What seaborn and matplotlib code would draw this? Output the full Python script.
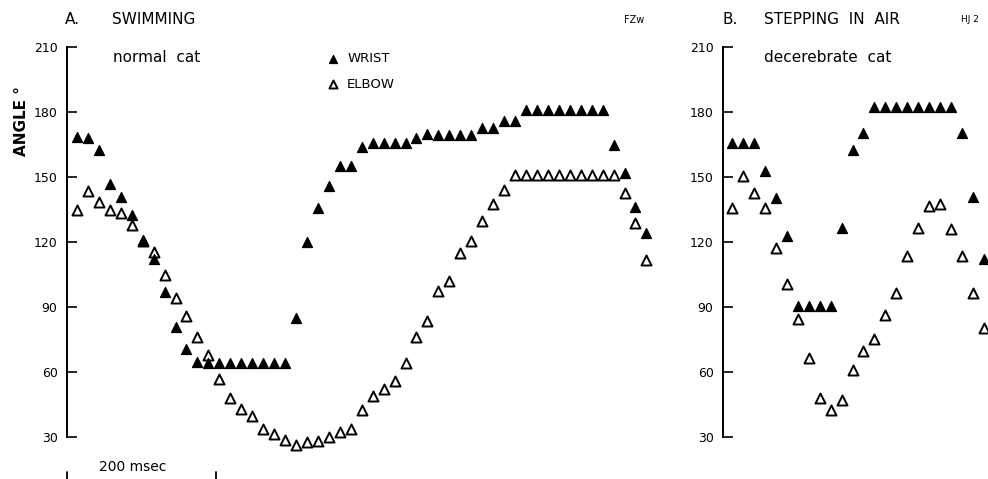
import matplotlib
matplotlib.use("Agg")
import matplotlib.pyplot as plt
import numpy as np
import pandas as pd
import seaborn as sns

# Joint angles (degrees) sampled frame by frame from film records
FRAME_MS = 14.7  # interval between film frames, msec

swim_wrist = [168.5, 168, 162.5, 147, 141, 132.5, 121, 112, 97, 81, 70.5,
              64.5, 64, 64, 64, 64, 64, 64, 64, 64,
              85, 120, 135.5, 146, 155, 155, 164,
              165.5, 165.5, 165.5, 165.5, 168, 170, 169.5, 169.5, 169.5, 169.5,
              172.5, 172.5, 176, 176,
              181, 181, 181, 181, 181, 181, 181, 181,
              165, 152, 136, 124]
swim_elbow = [134.8, 143.5, 138.5, 135, 133.4, 128, 120.5, 115.4, 105, 94,
              86, 76, 68, 57, 48, 43, 39.8, 33.7, 31.4, 28.6,
              26.3, 27.7, 28.2, 30, 32.3, 33.7, 42.5, 49, 52, 56,
              64, 76, 83.5, 97.4, 102, 115, 120.5, 129.7, 137.5, 144,
              151, 151, 151, 151, 151, 151, 151, 151, 151, 151,
              142.6, 129, 111.7]

step_wrist = [165.5, 165.5, 165.5, 152.8, 140.3, 123, 90.5, 90.5, 90.5, 90.5,
              126.5, 162.5, 170.3,
              182.3, 182.3, 182.3, 182.3, 182.3, 182.3, 182.3, 182.3,
              170.3, 140.8, 112.2]
step_elbow = [135.7, 150.5, 142.6, 135.7, 117.2, 100.6, 84.5, 66.5, 48, 42.5,
              47, 61, 69.7, 75.2, 86.3, 96.5, 113.5, 126.5, 136.6, 137.5,
              126, 113.5, 96.5, 80.3]

angle_ticks = [30, 60, 90, 120, 150, 180, 210]
joint_labels = ["WRIST", "ELBOW"]
SCALE_MS = 200


def frame_table(wrist, elbow):
    t = np.arange(len(wrist)) * FRAME_MS
    return pd.DataFrame({"time": t, "wrist": wrist, "elbow": elbow})


swim = frame_table(swim_wrist, swim_elbow)
step = frame_table(step_wrist, step_elbow)

sns.set_theme(style="white")
plt.rcParams["font.family"] = ["DejaVu Sans"]
plt.rcParams["text.color"] = "black"
plt.rcParams["axes.labelcolor"] = "black"

fig = plt.figure(figsize=(9.88, 4.79), dpi=100)
ax_a = fig.add_axes([0.0678, 0.04245, 0.6002, 0.88204])
ax_b = fig.add_axes([0.7318, 0.04245, 0.2804, 0.88204])

MS_AREA = 52


def draw_panel(ax, df, xlim):
    sns.scatterplot(data=df, x="time", y="wrist", ax=ax, marker="^", s=MS_AREA,
                    color="black", edgecolor="black", linewidth=0.9,
                    label=joint_labels[0], legend=False, clip_on=False, zorder=3)
    sns.scatterplot(data=df, x="time", y="elbow", ax=ax, marker="^", s=MS_AREA,
                    color="white", edgecolor="black", linewidth=1.4,
                    label=joint_labels[1], legend=False, clip_on=False, zorder=2)
    ax.set_xlim(*xlim)
    ax.set_ylim(20, 215)
    for side in ("top", "right", "bottom"):
        ax.spines[side].set_visible(False)
    ax.spines["left"].set_bounds(30, 210)
    ax.spines["left"].set_linewidth(1.4)
    ax.spines["left"].set_color("black")
    ax.set_yticks(angle_ticks)
    ax.tick_params(axis="y", left=True, direction="in", length=7.5, width=1.2,
                   pad=6.8, labelsize=9, colors="black")
    ax.set_xticks([])
    ax.set_xlabel("")
    ax.set_ylabel("")
    ax.patch.set_alpha(0)


draw_panel(ax_a, swim, (-13.4, 782.6))
draw_panel(ax_b, step, (-12.1, 359.7))

# Legend for the two joints
handles, labels = ax_a.get_legend_handles_labels()
ax_a.legend(handles, labels, loc="upper left", frameon=False, fontsize=9.5,
            bbox_to_anchor=(326 / 988, 1 - 52 / 479), bbox_transform=fig.transFigure,
            borderpad=0, borderaxespad=0, handlelength=1.0, handletextpad=0.6,
            labelspacing=0.95, markerscale=0.8)

# Time scale bar
x0 = ax_a.get_xlim()[0]
ax_a.plot([x0, x0, x0 + SCALE_MS, x0 + SCALE_MS], [14, 9.5, 9.5, 14],
          color="black", lw=1.3, clip_on=False)
fig.text(133 / 988, 1 - 467 / 479, f"{SCALE_MS} msec", ha="center", va="center",
         fontsize=10)

# Panel titles and notes
def ftext(px, py, s, **kw):
    fig.text(px / 988, 1 - py / 479, s, va="center", ha="left", **kw)


ftext(65, 20, "A.", fontsize=11)
ftext(112, 20, "SWIMMING", fontsize=11)
ftext(113, 58, "normal  cat", fontsize=11)
ftext(624, 20, "FZw", fontsize=7)
ftext(722, 20, "B.", fontsize=11)
ftext(764, 20, "STEPPING  IN  AIR", fontsize=11)
ftext(764, 58, "decerebrate  cat", fontsize=11)
ftext(961, 20, "HJ 2", fontsize=6.5)

fig.text(21 / 988, 1 - 121 / 479, "ANGLE °", rotation=90, ha="center",
         va="center", fontsize=11, fontweight="bold")

fig.savefig("out.png", dpi=100)
